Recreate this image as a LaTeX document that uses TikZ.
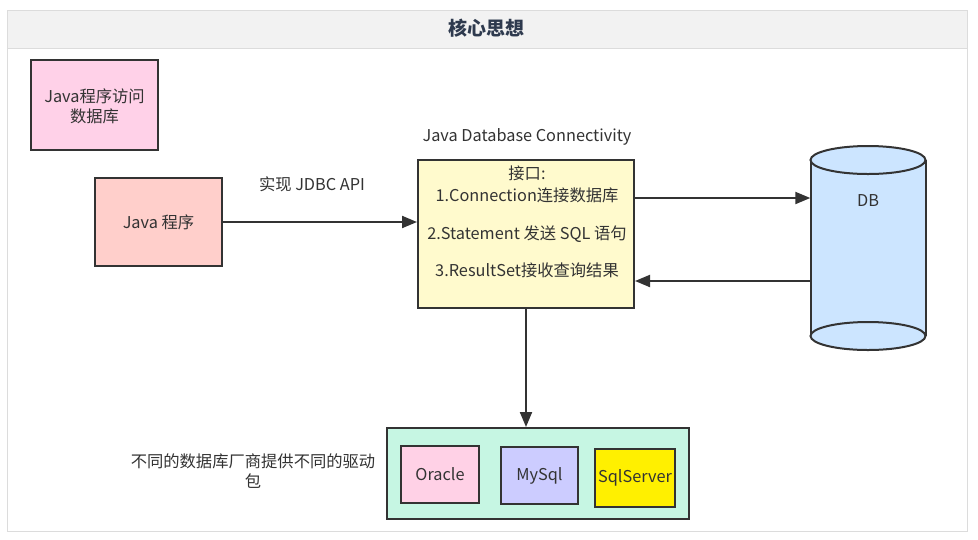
\documentclass[tikz,border=0pt]{standalone}
\usepackage{fontspec}
\setmainfont{Noto Sans CJK SC}
\usetikzlibrary{arrows.meta}
\definecolor{ink}{HTML}{333333}
\definecolor{titleink}{HTML}{2E3A4E}
\definecolor{hdrfill}{HTML}{F2F2F2}
\definecolor{hdrline}{HTML}{DCDCDC}
\definecolor{pinkA}{HTML}{FFD1E8}
\definecolor{salmon}{HTML}{FFCFCB}
\definecolor{yel}{HTML}{FFFACD}
\definecolor{dbblue}{HTML}{CCE5FF}
\definecolor{mint}{HTML}{C6F6E3}
\definecolor{orc}{HTML}{FFD1E6}
\definecolor{lav}{HTML}{CCCCFF}
\definecolor{sqls}{HTML}{FFF000}
\tikzset{
  box/.style={draw=ink, line width=2pt, inner sep=0pt},
  lbl/.style={text=ink, font=\fontsize{16.3}{20}\selectfont, inner sep=0pt, align=center},
  arr/.style={draw=ink, line width=2pt, -{Triangle[length=15pt,width=12pt]}}
}
\begin{document}
\begin{tikzpicture}[x=1pt,y=1pt]
\useasboundingbox (0,0) rectangle (978,-539);
% frame and header
\node[draw=hdrline, line width=0.8pt, fill=white, minimum width=960, minimum height=521, inner sep=0pt] (frame) at (487,-270.5) {};
\node[draw=hdrline, line width=0.8pt, fill=hdrfill, minimum width=960, minimum height=38, inner sep=0pt] (header) at (487,-29) {};
\node[text=titleink, font=\fontsize{19}{21}\selectfont\bfseries, inner sep=0pt] (title) at (486,-28) {核心思想};
% boxes
\node[box, fill=pinkA, minimum width=127, minimum height=90] (access) at (94.5,-105) {};
\node[lbl] (accesst) at (94.5,-106) {Java程序访问\\数据库};
\node[box, fill=salmon, minimum width=127, minimum height=88] (prog) at (158.5,-222) {};
\node[lbl] (progt) at (158.5,-222) {Java 程序};
\node[box, fill=yel, minimum width=216, minimum height=148] (jdbc) at (526,-234) {};
\node[lbl] (jdbctitle) at (527,-137) {Java Database Connectivity};
\node[lbl] (i0) at (527,-173) {接口:};
\node[lbl] (i1) at (527,-195) {1.Connection连接数据库};
\node[lbl] (i2) at (527,-234) {2.Statement 发送 SQL 语句};
\node[lbl] (i3) at (527,-270) {3.ResultSet接收查询结果};
\node[lbl] (impl) at (312,-184) {实现 JDBC API};
% DB cylinder
\node[minimum width=115, minimum height=204, inner sep=0pt] (db) at (868,-248) {};
\fill[dbblue] (810.5,-160) -- (810.5,-336) arc[start angle=180, end angle=360, x radius=57.5, y radius=14] -- (925.5,-160) -- cycle;
\draw[ink, line width=2pt] (810.5,-160) -- (810.5,-336) (925.5,-160) -- (925.5,-336);
\draw[ink, line width=2pt, fill=dbblue] (868,-336) ellipse[x radius=57.5, y radius=14];
\draw[ink, line width=2pt, fill=dbblue] (868,-160) ellipse[x radius=57.5, y radius=14];
\node[lbl] (dbt) at (868,-201) {DB};
% drivers
\node[box, fill=mint, minimum width=302, minimum height=91] (drv) at (538,-473.5) {};
\node[box, fill=orc, minimum width=78, minimum height=57] (oracle) at (440,-474.5) {};
\node[lbl] (oraclet) at (440,-474) {Oracle};
\node[box, fill=lav, minimum width=77, minimum height=57] (mysql) at (539.5,-475.5) {};
\node[lbl] (mysqlt) at (539.5,-476) {MySql};
\node[box, fill=sqls, minimum width=80, minimum height=58] (sqlserver) at (635,-478) {};
\node[lbl] (sqlservert) at (635,-478) {SqlServer};
\node[lbl] (vendor) at (253,-471) {不同的数据库厂商提供不同的驱动\\包};
% connectors
\draw[arr] (prog.east) -- (prog.east -| jdbc.west);
\draw[arr] ([yshift=36pt]jdbc.east) -- ([yshift=36pt]jdbc.east -| db.west);
\draw[arr] ([yshift=-47pt]jdbc.east -| db.west) -- ([yshift=-47pt]jdbc.east);
\draw[arr] (jdbc.south) -- (jdbc.south |- drv.north);
\end{tikzpicture}
\end{document}
